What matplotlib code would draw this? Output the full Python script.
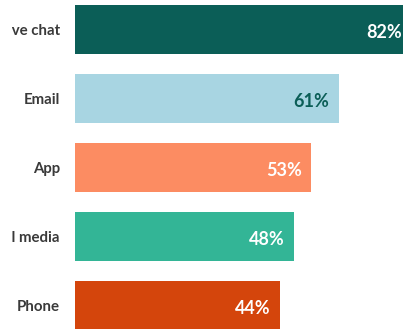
import matplotlib.pyplot as plt
from matplotlib.patches import Rectangle
import numpy as np

# data
channels = ['Live chat', 'Email', 'App', 'Social media', 'Phone']
shares = np.array([82, 61, 53, 48, 44])
colors = ['#0b5e57', '#a8d5e2', '#fc8c62', '#33b596', '#d4450c']
label_colors = ['white', '#0b5e57', 'white', 'white', 'white']

base = -15  # bars start a bit left of zero in the original

fig = plt.figure(figsize=(4.03, 3.29), dpi=100)
ax = fig.add_axes([75 / 403, 0, 1 - 75 / 403, 1])

y = np.arange(len(channels))
ax.barh(y, shares - base, left=base, height=0.71, color=colors)

for i, v in enumerate(shares):
    ax.text(v - 2.7, i + 0.05, f'{v}%', ha='right', va='center',
            color=label_colors[i], fontsize=13, fontweight='bold',
            fontstyle='normal', family='Lato')

ax.set_xlim(base, 79.5)
ax.set_ylim(4.34, -0.4275)
ax.set_yticks(y)
ax.set_yticklabels(channels, fontsize=10.8, family='Lato', fontweight='bold', color='#3a3a3a')
ax.tick_params(axis='y', length=0, pad=11)
ax.set_xticks([])
for s in ax.spines.values():
    s.set_visible(False)

# the original is cropped on the left, cutting the long labels
clip = Rectangle((12 / 403, 0), 1, 1, transform=fig.transFigure, visible=False)
fig.add_artist(clip)
for lbl in ax.get_yticklabels():
    lbl.set_clip_on(True)
    lbl.set_clip_path(clip)

fig.savefig('out.png', dpi=100)
